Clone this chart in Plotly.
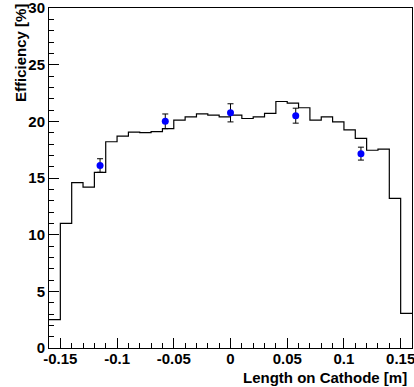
import plotly.graph_objects as go

# Histogram bin edges (m) and efficiency values (%)
bin_edges = [-0.16, -0.15, -0.14, -0.13, -0.12, -0.11, -0.10, -0.09, -0.08, -0.07, -0.06,
             -0.05, -0.04, -0.03, -0.02, -0.01, 0.00, 0.01, 0.02, 0.03, 0.04, 0.05,
             0.06, 0.07, 0.08, 0.09, 0.10, 0.11, 0.12, 0.13, 0.14, 0.15, 0.16]
hist_values = [2.5, 11.0, 14.6, 14.2, 15.5, 18.2, 18.7, 19.05, 19.0, 19.1, 19.35,
               20.1, 20.4, 20.65, 20.55, 20.4, 20.55, 20.25, 20.4, 20.7, 21.75, 21.6,
               21.2, 20.1, 20.4, 19.95, 19.25, 18.5, 17.45, 17.55, 13.2, 3.05]

# Measured points
meas_x = [-0.115, -0.0575, 0.0, 0.0575, 0.115]
meas_y = [16.1, 20.0, 20.75, 20.5, 17.15]
meas_err = [0.6, 0.65, 0.8, 0.66, 0.57]

x_tick_vals = [-0.15, -0.1, -0.05, 0, 0.05, 0.1, 0.15]
x_tick_text = ["-0.15", "-0.1", "-0.05", "0", "0.05", "0.1", "0.15"]
y_tick_vals = [0, 5, 10, 15, 20, 25, 30]

font_family = "Liberation Sans, Arial, sans-serif"
fsize = 15

fig = go.Figure()
fig.add_trace(go.Scatter(
    x=bin_edges, y=hist_values + [hist_values[-1]],
    mode="lines", line=dict(shape="hv", color="black", width=1.2),
    hoverinfo="skip", showlegend=False,
))
fig.add_trace(go.Scatter(
    x=meas_x, y=meas_y, mode="markers",
    marker=dict(color="#0000ff", size=7),
    error_y=dict(type="data", array=meas_err, color="black", thickness=1, width=3),
    showlegend=False,
))

fig.update_layout(
    width=414, height=387,
    margin=dict(l=49, r=2, t=8, b=39),
    paper_bgcolor="white", plot_bgcolor="white",
    font=dict(family=font_family, color="black"),
)
fig.update_xaxes(
    range=[-0.16, 0.16], showgrid=False, zeroline=False, automargin=False,
    showline=True, linecolor="black", linewidth=1, mirror=True,
    ticks="inside", ticklen=10, tickwidth=1, tickcolor="black",
    tickvals=x_tick_vals, ticktext=x_tick_text, ticklabeloverflow="allow",
    ticklabelstandoff=-3,
    tickfont=dict(family=font_family, size=fsize, weight="bold", color="black"),
    minor=dict(ticks="inside", ticklen=5, dtick=0.01, tick0=0, tickcolor="black", showgrid=False),
)
fig.update_yaxes(
    range=[0, 30], showgrid=False, zeroline=False, automargin=False,
    showline=True, linecolor="black", linewidth=1, mirror=True,
    ticks="inside", ticklen=10, tickwidth=1, tickcolor="black",
    tickvals=y_tick_vals, ticklabeloverflow="allow",
    tickfont=dict(family=font_family, size=fsize, weight="bold", color="black"),
    minor=dict(ticks="inside", ticklen=5, dtick=1, tick0=0, tickcolor="black", showgrid=False),
)
fig.add_annotation(
    text="<b>Length on Cathode [m]</b>", xref="paper", yref="paper",
    x=1, y=0, xanchor="right", yanchor="middle", yshift=-29, xshift=-3,
    showarrow=False, font=dict(family=font_family, size=fsize, color="black"),
)
fig.add_annotation(
    text="<b>Efficiency [%]</b>", xref="paper", yref="paper",
    x=0, y=1, xanchor="center", yanchor="top", xshift=-29, yshift=6,
    textangle=-90, showarrow=False, font=dict(family=font_family, size=fsize, color="black"),
)
fig.write_html("out.html")
